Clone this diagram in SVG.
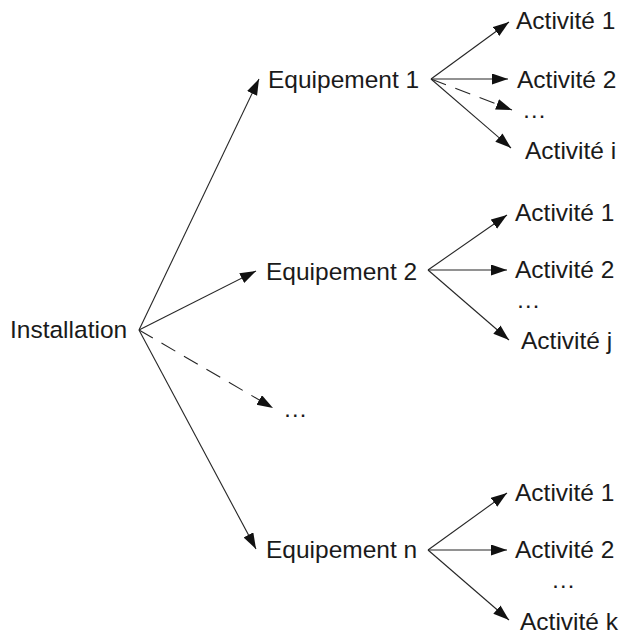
<svg xmlns="http://www.w3.org/2000/svg" width="621" height="634" viewBox="0 0 621 634">
<style>
text{font-family:"Liberation Sans",Arial,sans-serif;font-size:24.5px;fill:#1a1a1a}
.c{stroke:#262626;stroke-width:1.1;fill:none;marker-end:url(#ah)}
.d{stroke-dasharray:16 10}
</style>
<defs>
<marker id="ah" markerUnits="userSpaceOnUse" markerWidth="17" markerHeight="12" refX="16" refY="5.5" orient="auto">
<path d="M0,0 L16,5.5 L0,11 z" fill="#111"/>
</marker>
</defs>
<rect width="621" height="634" fill="#fff"/>
<g id="connectors">
<line class="c" x1="139" y1="330" x2="259" y2="79"/>
<line class="c" x1="139" y1="330" x2="256" y2="271"/>
<line class="c d" x1="139" y1="330" x2="273" y2="408"/>
<line class="c" x1="139" y1="330" x2="256" y2="549"/>
<line class="c" x1="431" y1="79" x2="509" y2="22"/>
<line class="c" x1="431" y1="79" x2="508" y2="79"/>
<line class="c d" x1="431" y1="79" x2="512" y2="110"/>
<line class="c" x1="431" y1="79" x2="511" y2="148"/>
<line class="c" x1="428" y1="270" x2="507" y2="215"/>
<line class="c" x1="428" y1="270" x2="507" y2="270"/>
<line class="c" x1="428" y1="270" x2="509" y2="340"/>
<line class="c" x1="428" y1="550" x2="507" y2="493"/>
<line class="c" x1="428" y1="550" x2="507" y2="550"/>
<line class="c" x1="428" y1="550" x2="509" y2="620"/>
</g>
<g id="installation"><text x="10" y="338">Installation</text></g>
<g id="equip1"><text x="268" y="88">Equipement 1</text></g>
<g id="equip2"><text x="266" y="280">Equipement 2</text></g>
<g id="equip-dots"><text x="283" y="417">…</text></g>
<g id="equipn"><text x="266" y="558">Equipement n</text></g>
<g id="e1-a1"><text x="516" y="29">Activité 1</text></g>
<g id="e1-a2"><text x="517" y="88">Activité 2</text></g>
<g id="e1-dots"><text x="522" y="118">…</text></g>
<g id="e1-ai"><text x="525" y="159">Activité i</text></g>
<g id="e2-a1"><text x="515" y="221">Activité 1</text></g>
<g id="e2-a2"><text x="515" y="278">Activité 2</text></g>
<g id="e2-dots"><text x="516" y="308">…</text></g>
<g id="e2-aj"><text x="521" y="349">Activité j</text></g>
<g id="en-a1"><text x="515" y="501">Activité 1</text></g>
<g id="en-a2"><text x="515" y="558">Activité 2</text></g>
<g id="en-dots"><text x="551" y="588">…</text></g>
<g id="en-ak"><text x="520" y="630">Activité k</text></g>
</svg>
